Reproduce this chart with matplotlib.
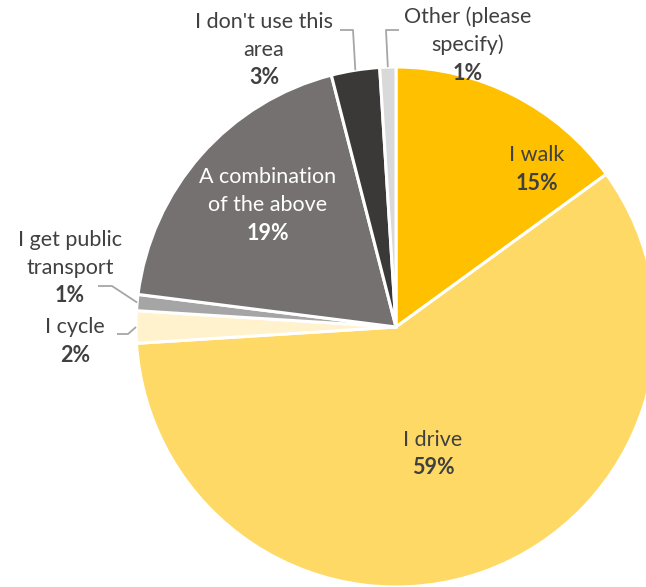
import numpy as np
import matplotlib.pyplot as plt

categories = ["I walk", "I drive", "I cycle", "I get public\ntransport",
              "A combination\nof the above", "I don't use this\narea",
              "Other (please\nspecify)"]
values = [15, 59, 2, 1, 19, 3, 1]
colors = ["#FFC000", "#FFD966", "#FFF2CC", "#A5A5A5", "#767171", "#3B3838", "#D9D9D9"]

W, H = 646, 587
plt.rcParams["font.family"] = ["Lato", "DejaVu Sans"]
fig = plt.figure(figsize=(W / 100, H / 100), dpi=100)
ax = fig.add_axes([0, 0, 1, 1])

cx, cy, R = 396, H - 327, 260
wedges, _ = ax.pie(values, colors=colors, startangle=90, counterclock=False,
                   center=(cx, cy), radius=R,
                   wedgeprops=dict(edgecolor="white", linewidth=2.2))
ax.set_xlim(0, W)
ax.set_ylim(0, H)
ax.set_aspect("equal")
ax.axis("off")

txt = "#404040"
line_c = "#A6A6A6"


def P(x, y):
    return x, H - y


def rim(i, frac=1.0):
    w = wedges[i]
    a = np.deg2rad((w.theta1 + w.theta2) / 2)
    return cx + R * frac * np.cos(a), cy + R * frac * np.sin(a)


# label block centres, in pixels from the top-left corner
label_pos = {
    0: (537, 169),
    1: (433, 454),
    2: (75, 341),
    3: (70, 268),
    4: (268, 205),
    5: (264, 50),
    6: (468, 45),
}
label_col = {4: "white"}
fs = 15.5
step = 28
for i, (x, y) in label_pos.items():
    lines = categories[i].split("\n")
    n = len(lines) + 1
    top = y - step * n / 2
    c = label_col.get(i, txt)
    for k, ln in enumerate(lines):
        ax.text(*P(x, top + step * (k + 0.5)), ln, ha="center", va="center",
                fontsize=fs, color=c)
    ax.text(*P(x, top + step * (n - 0.5)), f"{values[i]}%", ha="center",
            va="center", fontsize=fs, color=c, fontweight="bold")


# leader lines from the outside labels to their slices
def leader(pts, i, frac=1.0):
    ex, ey = rim(i, frac)
    xs = [p[0] for p in pts] + [ex]
    ys = [H - p[1] for p in pts] + [ey]
    ax.plot(xs, ys, color=line_c, lw=1.3, solid_capstyle="butt", zorder=3)


leader([(117, 334), (128, 334)], 2, 1.0)
leader([(98, 286), (112, 286)], 3, 1.0)
leader([(340, 30), (353, 30)], 5, 1.0)
leader([(399, 30), (386, 30)], 6, 1.0)

fig.savefig("out.png", dpi=100)
